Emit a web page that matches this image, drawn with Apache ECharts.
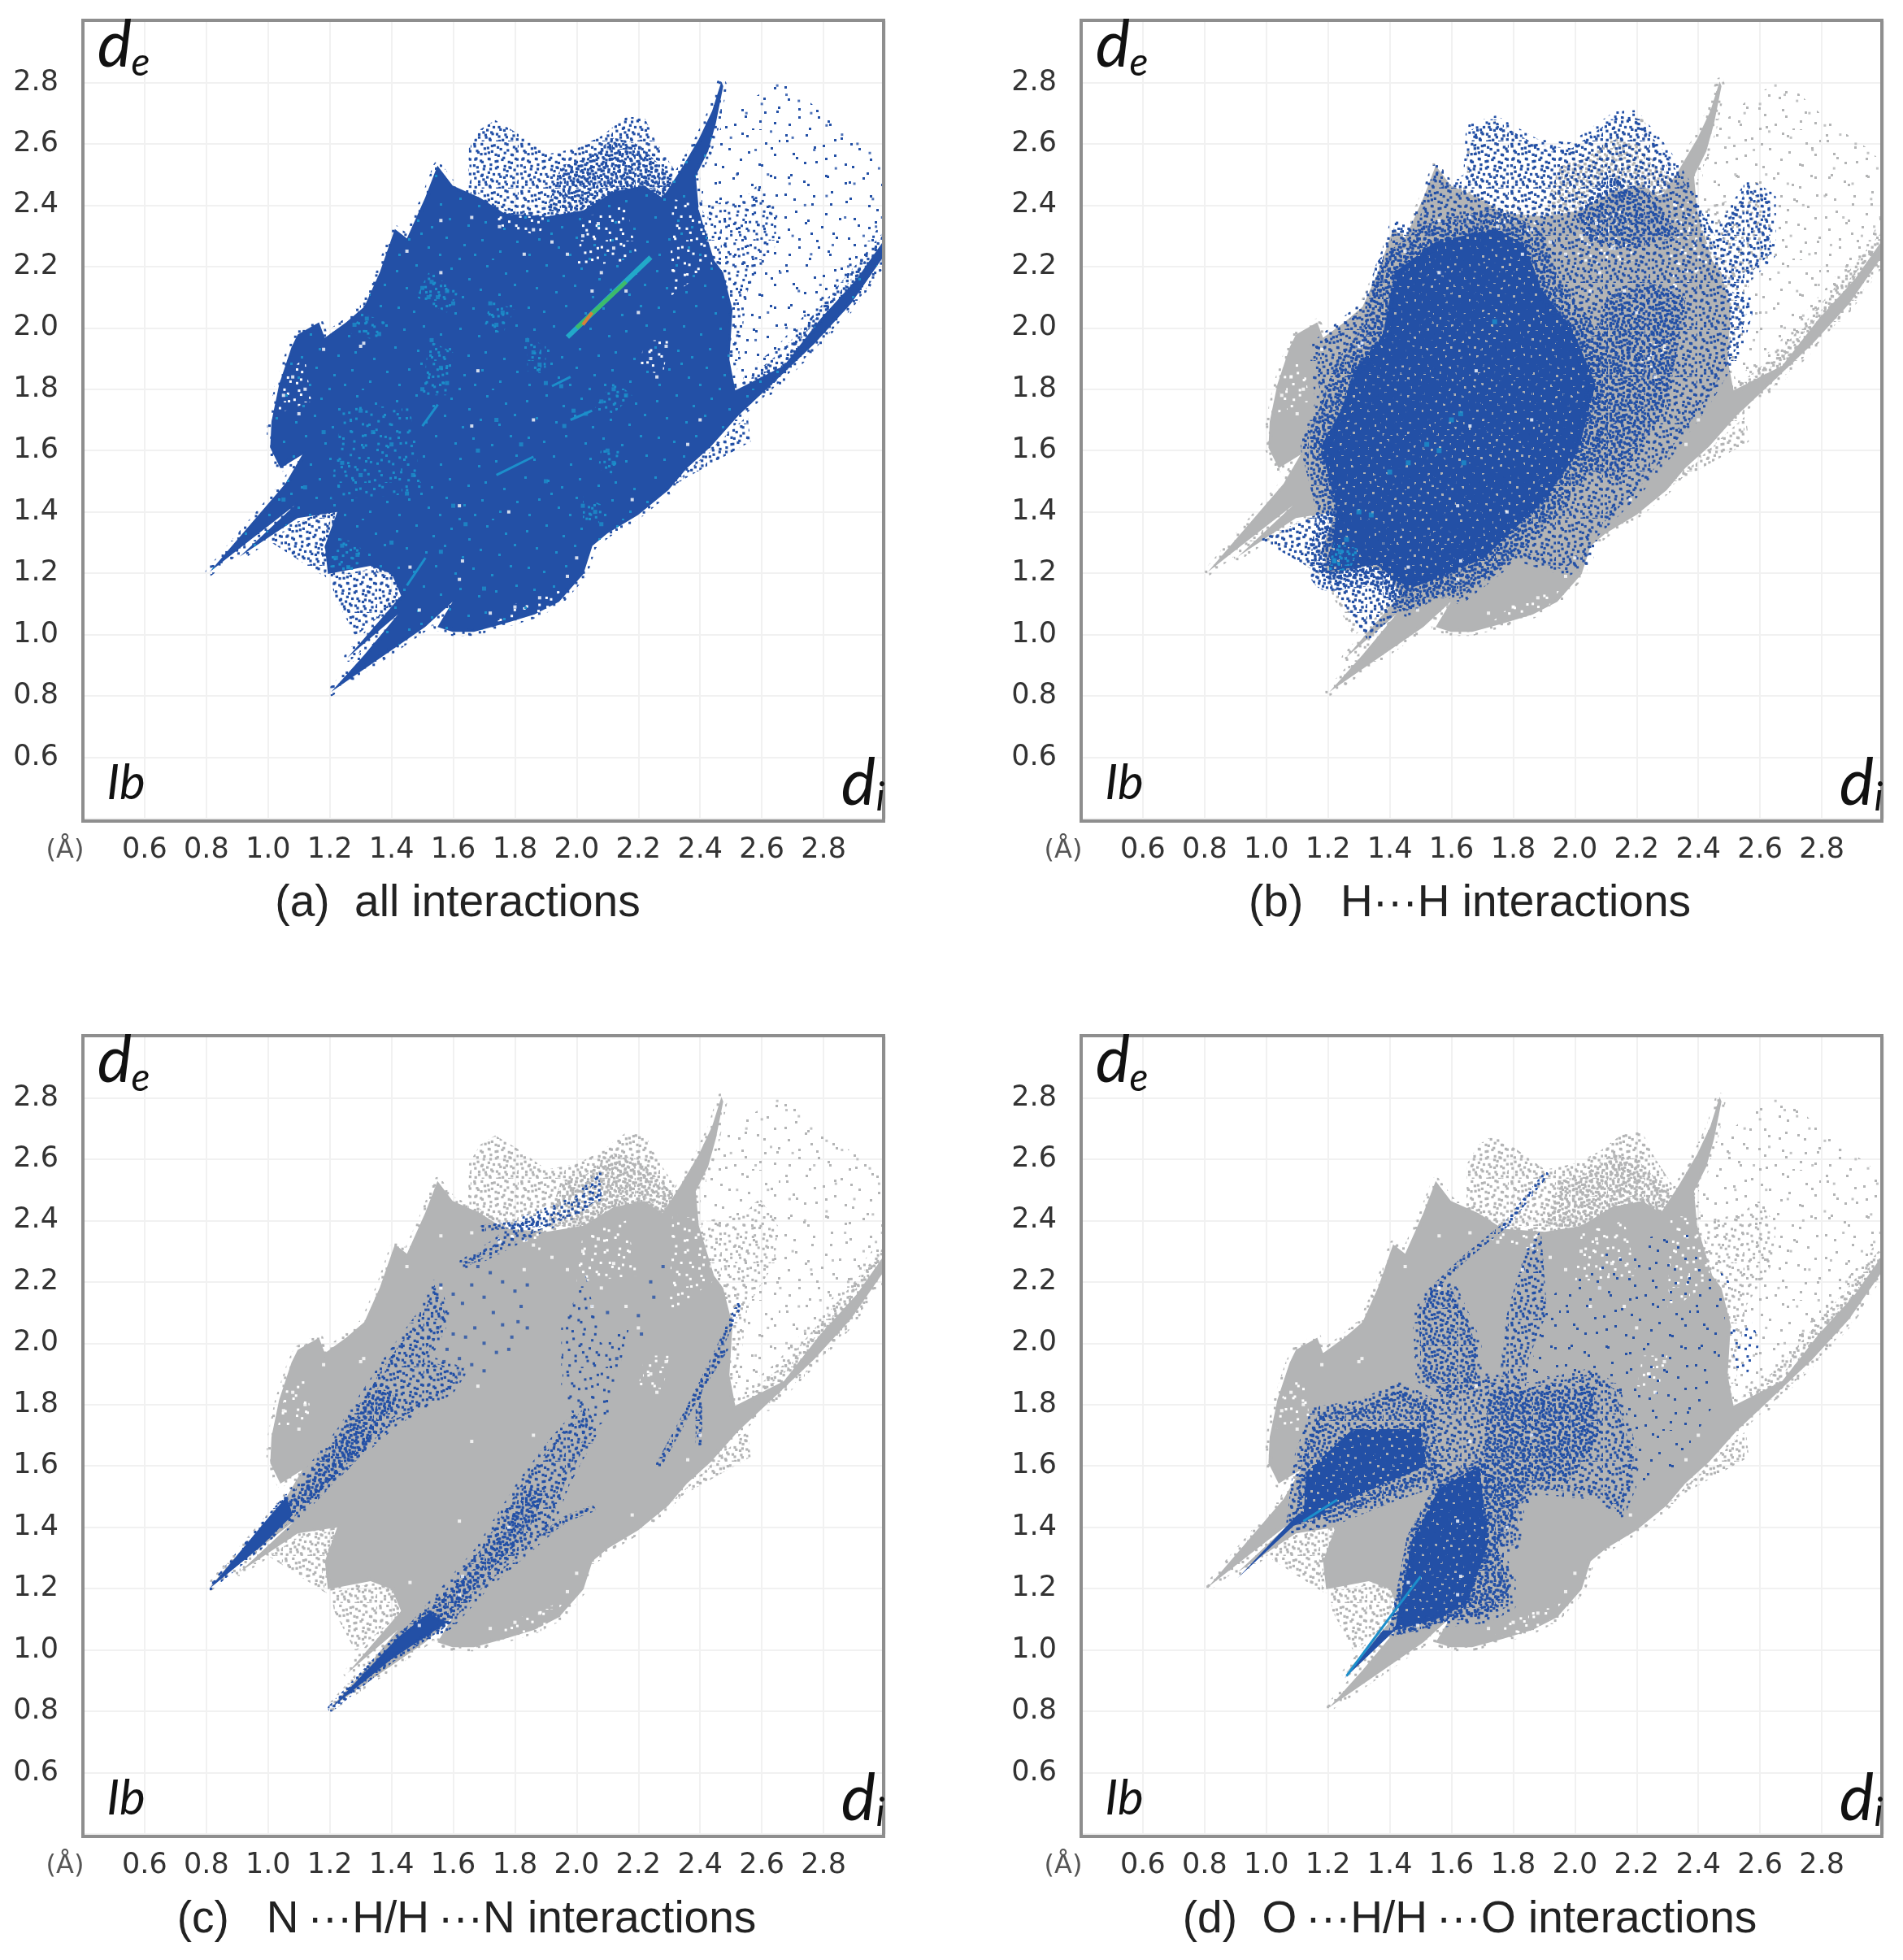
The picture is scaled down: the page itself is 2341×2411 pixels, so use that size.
<!DOCTYPE html>
<html><head><meta charset="utf-8">
<style>html,body{margin:0;background:#fff}#c{width:2341px;height:2411px;filter:blur(0.7px)}</style>
<script src="https://cdn.jsdelivr.net/npm/echarts@6/dist/echarts.min.js"></script>
</head><body><div id="c"></div>
<script>
// tick labels / captions
const captions=['(a)  all interactions','(b)   H···H interactions','(c)   N\u2009···H/H\u2009···N interactions','(d)  O\u2009···H/H\u2009···O interactions'];
const captionX=[563,1808,574,1808], captionY=[1112,1112,2362,2362];

// Fingerprint outline shared by all panels [di,de]
const mainOutline=[[.81,1.204],[1.056,1.492],[1.111,1.587],[1.04,1.542],[1.007,1.609],[1.011,1.694],[1.036,1.816],[1.076,1.937],[1.096,1.978],[1.165,2.018],[1.184,1.968],[1.253,2.018],[1.312,2.069],[1.362,2.181],[1.411,2.322],[1.45,2.292],[1.509,2.424],[1.549,2.529],[1.598,2.464],[1.687,2.424],[1.766,2.373],[1.903,2.363],[2.022,2.383],[2.12,2.444],[2.219,2.464],[2.278,2.424],[2.337,2.515],[2.396,2.616],[2.439,2.707],[2.469,2.803],[2.475,2.788],[2.451,2.667],[2.426,2.576],[2.386,2.495],[2.396,2.383],[2.445,2.221],[2.475,2.18],[2.505,2.059],[2.495,1.897],[2.514,1.796],[2.672,1.877],[2.79,2.029],[2.908,2.16],[3,2.292],[3,2.241],[2.889,2.079],[2.77,1.948],[2.632,1.816],[2.524,1.714],[2.435,1.613],[2.357,1.542],[2.297,1.471],[2.199,1.39],[2.1,1.33],[2.051,1.289],[2.022,1.198],[1.943,1.107],[1.864,1.066],[1.766,1.036],[1.667,1.009],[1.598,1.009],[1.549,1.025],[1.598,1.107],[1.509,1.025],[1.204,.813],[1.312,.934],[1.421,1.066],[1.257,.924],[1.431,1.127],[1.401,1.198],[1.332,1.224],[1.194,1.198],[1.184,1.289],[1.224,1.4],[1.096,1.38],[.908,1.254],[1.086,1.421],[.918,1.289]];
const topLobes=[[1.647,2.403],[1.651,2.586],[1.687,2.647],[1.736,2.677],[1.805,2.636],[1.903,2.566],[2.002,2.586],[2.081,2.626],[2.16,2.687],[2.219,2.687],[2.258,2.606],[2.317,2.515],[2.278,2.383],[2.022,2.322],[1.706,2.373]];
const topDense=[[1.9,2.38],[1.95,2.53],[2.03,2.55],[2.12,2.62],[2.2,2.6],[2.32,2.48],[2.25,2.38]];
const fanRegion=[[2.426,2.576],[2.475,2.667],[2.554,2.738],[2.652,2.799],[2.711,2.778],[2.83,2.667],[2.948,2.586],[3,2.535],[3,2.282],[2.889,2.14],[2.77,1.998],[2.652,1.877],[2.514,1.796],[2.475,2.059],[2.435,2.221],[2.396,2.383]];
const midZone=[[2.42,2.4],[2.544,2.423],[2.593,2.474],[2.652,2.383],[2.642,2.262],[2.554,2.12],[2.52,1.86],[2.475,1.95],[2.44,2.22]];
const lowerBand=[[2.56,1.84],[2.66,1.92],[2.79,2.07],[2.9,2.2],[3,2.32],[3,2.24],[2.88,2.07],[2.76,1.94],[2.62,1.8]];
const lowerRightLobe=[[2.455,1.623],[2.554,1.714],[2.564,1.629],[2.357,1.512],[2.307,1.482]];
const lowerLeftA=[[.997,1.309],[1.224,1.431],[1.184,1.188]];
const lowerLeftB=[[1.204,1.188],[1.391,1.228],[1.431,1.117],[1.283,.995],[1.214,1.127]];
const holeZones=[[[1.03,1.72],[1.06,1.86],[1.12,1.9],[1.14,1.76]],[[1.73,1.04],[1.8,1.1],[1.96,1.16],[1.9,1.07]],[[2.3,2.1],[2.31,2.42],[2.42,2.4],[2.44,2.2]],[[2.0,2.2],[2.02,2.36],[2.16,2.4],[2.2,2.22]],[[2.2,1.86],[2.22,1.96],[2.3,1.96],[2.28,1.85]],[[1.72,2.34],[1.76,2.37],[1.9,2.36],[1.88,2.3]]];
const fanDots=[2.5,2.62,2.55,2.7,2.6,2.73,2.65,2.79,2.68,2.76,2.72,2.74,2.76,2.7,2.81,2.66,2.86,2.63,2.91,2.6,2.95,2.57,2.98,2.52,2.52,2.5,2.58,2.58,2.63,2.64,2.7,2.62,2.77,2.58,2.84,2.52,2.9,2.47,2.96,2.42,2.99,2.36,2.62,2.5,2.69,2.47,2.74,2.4,2.81,2.43,2.87,2.36,2.93,2.3,2.97,2.33,2.7,2.3,2.76,2.24,2.83,2.27,2.88,2.2,2.66,2.18,2.72,2.12,2.79,2.14,2.62,2.05,2.68,2,2.74,2.04,2.58,1.96];
const whiteSpecks=[1.05,1.78,1.08,1.84,1.12,1.8,1.1,1.72,1.18,1.93,1.31,1.95,1.45,2.25,1.56,2.35,1.66,2.36,1.75,2.33,1.83,2.24,1.86,2.32,1.92,2.28,1.97,2.24,2.02,2.3,2.08,2.18,2.12,2.26,2.16,2.12,2.2,2.05,2.24,1.9,2.26,1.84,2.29,1.94,2.07,2.34,1.86,1.7,1.66,1.68,1.62,1.42,1.78,1.4,1.63,1.24,1.46,1.22,1.49,1.08,1.62,1.18,1.3,1.94,2.36,1.62,2.4,1.7,2.18,1.44,2.0,1.25,1.97,1.19,1.88,1.12,1.8,1.09,1.72,1.07,1.68,1.86,1.56,2.18,2.05,2.12];

// Panel (a) cyan speckle clusters and streaks
const cyanSpecks=[1.5,2.13,1.53,2.15,1.55,2.1,1.58,2.12,1.6,2.08,1.52,2.1,1.72,2.08,1.76,2.05,1.74,2.01,1.28,2.01,1.32,2.03,1.36,1.98,1.53,1.96,1.56,1.87,1.58,1.82,1.5,1.8,1.86,1.92,1.84,1.96,1.88,1.88,2.12,1.8,2.16,1.78,2.08,1.76,2.03,1.72,2.1,1.6,2.12,1.56,1.99,1.73,1.96,1.68,2.02,1.42,2.06,1.4,2.08,1.36,1.9,1.82,1.95,1.81,1.3,1.73,1.34,1.66,1.4,1.62,1.24,1.56,1.3,1.52,1.22,1.25,1.26,1.22,1.24,1.29,1.29,1.26,1.6,1.42,1.64,1.36,1.45,1.46,1.47,1.52,1.68,1.6,1.74,1.7,1.82,1.62,1.9,1.5,1.4,1.3,1.56,1.27,1.7,1.15,1.18,1.66,1.12,1.48,1.05,1.44];
const cyanPatches=[[[1.48,2.1],[1.52,2.18],[1.62,2.12],[1.58,2.05]],[[1.27,1.98],[1.3,2.05],[1.38,2.02],[1.35,1.96]],[[1.7,2.0],[1.72,2.09],[1.8,2.06],[1.76,1.98]],[[2.06,1.74],[2.12,1.83],[2.18,1.78],[2.12,1.72]],[[1.84,1.86],[1.84,1.97],[1.9,1.94],[1.9,1.85]],[[2.07,1.54],[2.08,1.62],[2.14,1.6],[2.12,1.52]],[[2.02,1.37],[2.02,1.45],[2.09,1.42],[2.07,1.36]],[[1.2,1.22],[1.24,1.32],[1.32,1.27],[1.27,1.2]],[[1.5,1.78],[1.52,1.96],[1.6,1.92],[1.58,1.78]]];
const cyanWide=[[[1.2,1.44],[1.24,1.75],[1.46,1.74],[1.5,1.46]]];
const streakCyan=[[1.97,1.97],[2.24,2.23]], streakGreen=[[2.0,2.0],[2.16,2.15]], streakOrange=[[2.02,2.01],[2.05,2.05]];
const thinStreaks=[[[1.74,1.52],[1.86,1.58]],[[1.45,1.16],[1.51,1.25]],[[1.5,1.68],[1.55,1.75]],[[1.92,1.81],[1.98,1.84]],[[1.98,1.7],[2.05,1.73]]];

// Panel (b) overlay
const bOuter=[[1.138,1.644],[1.177,1.755],[1.157,1.937],[1.282,2.039],[1.33,2.079],[1.397,2.262],[1.416,2.333],[1.483,2.322],[1.55,2.515],[1.588,2.464],[1.656,2.484],[1.665,2.647],[1.742,2.673],[1.876,2.596],[1.991,2.586],[2.134,2.687],[2.192,2.691],[2.288,2.576],[2.374,2.444],[2.46,2.292],[2.566,2.464],[2.633,2.424],[2.633,2.241],[2.508,2.12],[2.565,2.079],[2.527,1.937],[2.431,1.775],[2.316,1.613],[2.201,1.471],[2.058,1.33],[2.039,1.238],[1.972,1.208],[1.809,1.259],[1.627,1.117],[1.569,1.157],[1.454,1.076],[1.359,1.2],[1.186,1.198],[1.224,1.39],[1.19,1.55]];
const bCore=[[1.205,1.208],[1.228,1.41],[1.177,1.613],[1.244,1.735],[1.282,1.856],[1.378,1.978],[1.416,2.181],[1.55,2.282],[1.742,2.322],[1.838,2.272],[1.895,2.12],[1.991,1.998],[2.067,1.816],[2.01,1.593],[1.895,1.431],[1.703,1.248],[1.569,1.188],[1.454,1.147],[1.359,1.228]];
const bPatch=[[2.0,2.36],[2.1,2.5],[2.24,2.44],[2.34,2.3],[2.2,2.26],[2.05,2.28]];
const bPatch2=[[2.02,1.75],[2.1,2.1],[2.24,2.15],[2.36,2.1],[2.3,1.75],[2.14,1.5],[2.02,1.55]];
const bLeftA=[[.98,1.31],[1.228,1.42],[1.19,1.19]], bLeftB=[[1.19,1.19],[1.36,1.23],[1.44,1.09],[1.33,.98],[1.23,1.13]];
const bCyan=[1.24,1.27,1.22,1.24,1.26,1.31,1.3,1.4,1.34,1.39,1.4,1.53,1.46,1.56,1.52,1.62,1.56,1.6,1.6,1.7,1.64,1.56,1.74,2.02,1.63,1.72];
const bCyanPatch=[[1.2,1.21],[1.22,1.3],[1.3,1.28],[1.27,1.21]];

// Panel (c) overlay
const cTip=[[.81,1.2],[1.0,1.43],[1.06,1.5],[1.08,1.44],[.98,1.34]];
const cBandA=[[1.04,1.46],[1.233,1.706],[1.391,1.947],[1.509,2.107],[1.539,2.19],[1.578,2.087],[1.509,1.947],[1.628,1.907],[1.588,1.847],[1.411,1.746],[1.233,1.585],[1.056,1.404]];
const cBandACore=[[1.05,1.44],[1.2,1.64],[1.36,1.86],[1.42,1.82],[1.3,1.65],[1.15,1.5]];
const cTip2=[[1.204,.81],[1.42,1.04],[1.52,1.12],[1.58,1.09],[1.4,.97]];
const cBandB=[[1.391,.983],[1.687,1.325],[1.825,1.546],[1.933,1.687],[2.022,1.788],[2.051,1.708],[1.963,1.546],[1.903,1.385],[1.706,1.214],[1.588,1.084]];
const cBandBCore=[[1.48,1.08],[1.7,1.3],[1.84,1.52],[1.9,1.52],[1.84,1.38],[1.66,1.2],[1.56,1.08]];
const cSparseB=[[1.95,1.85],[1.95,2.05],[2.03,2.22],[2.08,2.0],[2.17,2.05],[2.1,1.75],[2.02,1.7]];
const cTop=[[1.628,2.262],[1.726,2.323],[1.825,2.402],[2.002,2.472],[2.071,2.553],[2.081,2.482],[2.022,2.432],[1.864,2.361],[1.726,2.291],[1.647,2.251]];
const cLines=[[[1.697,2.375],[1.78,2.385],[1.88,2.39]],[[1.9,1.38],[1.97,1.43],[2.05,1.46]],[[2.268,1.607],[2.33,1.72],[2.396,1.848],[2.46,1.98],[2.524,2.12]],[[2.396,1.677],[2.396,1.848],[2.48,1.98]]];
const cDots=[1.56,2.19,1.6,2.16,1.63,2.13,1.66,2.19,1.7,2.15,1.73,2.1,1.76,2.06,1.79,2.02,1.78,1.98,1.74,1.97,1.7,2,1.67,2.05,1.64,2.02,1.6,2.03,1.58,1.98,1.62,1.95,1.66,1.93,1.7,1.91,1.82,2.12,1.84,2.19,1.8,2.17,1.76,2.2,1.72,2.23,1.68,2.25,1.84,2.05,1.81,2.07,1.55,2.05,1.52,2.02,1.57,1.94,1.62,1.9,2.2,2.09,2.24,2.2,2.28,2.25,2.25,2.15,2.21,2.03,2.1,2.1,2.13,1.95];

// Panel (d) overlay
const dTip=[[.908,1.235],[1.09,1.406],[1.225,1.46],[1.1,1.44]];
const dWing=[[1.09,1.406],[1.119,1.637],[1.167,1.768],[1.301,1.788],[1.435,1.848],[1.52,1.8],[1.52,1.66],[1.569,1.566],[1.397,1.506],[1.225,1.436]];
const dWingCore=[[1.12,1.43],[1.13,1.58],[1.28,1.72],[1.5,1.72],[1.52,1.6],[1.38,1.54],[1.22,1.47]];
const dCentre=[[1.52,1.8],[1.6,1.85],[1.72,1.89],[1.83,1.85],[2.05,1.9],[2.13,1.85],[2.19,1.62],[2.18,1.53],[2.144,1.446],[2.087,1.506],[1.876,1.526],[1.818,1.466],[1.809,1.345],[1.751,1.325],[1.79,1.225],[1.79,1.144],[1.703,1.104],[1.589,1.094],[1.416,1.064],[1.474,1.365],[1.56,1.526]];
const dCentreCore=[[1.7,1.55],[1.72,1.85],[1.85,1.84],[2.06,1.86],[2.08,1.7],[1.98,1.55],[1.85,1.55],[1.8,1.45]];
const dLower=[[1.416,1.064],[1.474,1.365],[1.56,1.526],[1.69,1.6],[1.72,1.35],[1.65,1.15],[1.55,1.1]];
const dLowerWide=[[1.42,1.07],[1.59,1.1],[1.72,1.12],[1.79,1.2],[1.75,1.33],[1.81,1.45],[1.7,1.6],[1.58,1.54],[1.47,1.36]];
const dLowerTip=[[1.253,.907],[1.378,1.064],[1.416,1.064]];
const dUpper=[[1.502,1.888],[1.493,2.09],[1.531,2.17],[1.6,2.18],[1.68,2.0],[1.68,1.86],[1.58,1.84]];
const dStrand=[[1.75,1.85],[1.78,2.1],[1.84,2.3],[1.89,2.37],[1.91,2.1],[1.85,1.95],[1.84,1.85]];
const dSparse=[[1.85,1.9],[1.92,2.15],[2.1,2.3],[2.35,2.38],[2.5,2.2],[2.45,1.8],[2.3,1.55],[2.18,1.55],[2.13,1.85]];
const dBlob=[[2.52,1.92],[2.5,2.05],[2.57,2.08],[2.6,2.0],[2.56,1.9]];
const dThin=[[[1.531,2.17],[1.646,2.28],[1.78,2.39],[1.905,2.55]]];
const dCyan=[[[1.26,.915],[1.41,1.12],[1.5,1.24]],[[1.12,1.42],[1.23,1.49]]];

// hand-placed speckle texture positions (x,y in a 160px tile)
const speckle=[7,12,31,5,52,18,74,9,96,22,118,6,141,15,19,33,43,38,66,30,88,44,110,35,133,41,152,29,9,57,28,62,55,55,79,64,101,58,124,66,147,55,16,84,40,80,61,90,85,83,108,92,129,86,154,79,5,106,33,110,50,118,72,108,95,116,116,112,139,120,22,133,46,143,68,131,90,140,112,134,134,148,155,136,10,152,37,126,60,152,84,157,103,152,125,158];

const BLUE='#2350a6',GREY='#b3b4b5',CYAN='#1c8fcb',WHITE='#ffffff';
const pairs=a=>{const o=[];for(let i=0;i<a.length;i+=2)o.push([a[i],a[i+1]]);return o};
function tile(color,scale,dot,solid,second){
  const s=Math.round(160*scale),cv=document.createElement('canvas');cv.width=cv.height=s;
  const g=cv.getContext('2d');
  g.fillStyle=color;
  if(solid)g.fillRect(0,0,s,s);
  for(let i=0;i<speckle.length;i+=2){
    const x=speckle[i]*scale,y=speckle[i+1]*scale;
    if(solid)g.clearRect(x,y,dot,dot);else g.fillRect(x,y,dot,dot);
    if(second){const x2=y,y2=((speckle[i]+47)%160)*scale;g.fillRect(x2,y2,dot,dot);}
  }
  return {image:cv,repeat:'repeat'};
}
const T={};
function tex(color,kind){
  const k=color+kind; if(T[k])return T[k];
  const p={fan:[1,3,0,1],sparse:[.62,3,0,1],mid:[.46,3,0,1],thick:[.36,3.2,0,1],fine:[.29,3.2,0,1],dense:[.62,2.8,1,0],porous:[.42,2.8,1,0],cy:[1,3,0,0]}[kind];
  return T[k]=tile(color,p[0],p[1],!!p[2],!!p[3]);
}
const series=[];
const poly=(p,pts,fill,edge,w)=>series.push({type:'custom',xAxisIndex:p,yAxisIndex:p,clip:true,silent:true,animation:false,encode:{x:0,y:1},data:pts,
  renderItem:(params,api)=>params.dataIndex===0?{type:'polygon',shape:{points:pts.map(v=>api.coord(v))},style:{fill,stroke:edge||null,lineWidth:w||0,lineJoin:'round'}}:null});
const strand=(p,pts,stroke,w)=>series.push({type:'custom',xAxisIndex:p,yAxisIndex:p,clip:true,silent:true,animation:false,encode:{x:0,y:1},data:pts,
  renderItem:(params,api)=>params.dataIndex===0?{type:'polyline',shape:{points:pts.map(v=>api.coord(v))},style:{fill:null,stroke,lineWidth:w,lineCap:'round'}}:null});
const dots=(p,flat,color,size)=>series.push({type:'scatter',xAxisIndex:p,yAxisIndex:p,silent:true,animation:false,data:pairs(flat),symbol:'rect',symbolSize:size,itemStyle:{color}});
const line=(p,pts,color,w)=>series.push({type:'line',xAxisIndex:p,yAxisIndex:p,silent:true,animation:false,showSymbol:false,data:pts,lineStyle:{color,width:w},itemStyle:{color}});

function base(p,c){
  poly(p,fanRegion,tex(c,'fan'));
  dots(p,fanDots,c,3);
  poly(p,midZone,tex(c,'mid'));
  poly(p,lowerBand,tex(c,'thick'),tex(c,'sparse'),16);
  poly(p,lowerRightLobe,tex(c,'thick'));
  poly(p,lowerLeftA,tex(c,'thick'));
  poly(p,lowerLeftB,tex(c,'thick'));
  poly(p,topLobes,tex(c,'thick'));
  poly(p,topDense,tex(c,'fine'));
  poly(p,mainOutline,c,tex(c,'mid'),10);
  holeZones.forEach(z=>poly(p,z,tex(WHITE,'sparse')));
  dots(p,whiteSpecks,WHITE,4);
}
// (a)
base(0,BLUE);
poly(0,mainOutline.slice(0),tex(CYAN,'cy'));
cyanWide.forEach(z=>poly(0,z,tex(CYAN,'sparse')));
cyanPatches.forEach(z=>poly(0,z,tex(CYAN,'mid')));
dots(0,cyanSpecks,CYAN,5);
thinStreaks.forEach(s=>line(0,s,CYAN,3));
line(0,streakCyan,'#22a9c9',6);line(0,streakGreen,'#3dbb6a',5);line(0,streakOrange,'#d9803a',4);
// (b)
base(1,GREY);
poly(1,bLeftA,tex(BLUE,'thick'));poly(1,bLeftB,tex(BLUE,'thick'));
poly(1,bOuter,tex(BLUE,'thick'),tex(BLUE,'mid'),14);
poly(1,bPatch,tex(BLUE,'fine'));
poly(1,bPatch2,tex(BLUE,'fine'));
poly(1,bCore,tex(BLUE,'fine'),tex(BLUE,'fine'),50);
poly(1,bCore,tex(BLUE,'porous'),tex(BLUE,'fine'),20);
poly(1,bCyanPatch,tex(CYAN,'thick'));
dots(1,bCyan,CYAN,6);
// (c)
base(2,GREY);
poly(2,cBandA,tex(BLUE,'thick'),tex(BLUE,'mid'),12);poly(2,cBandACore,tex(BLUE,'fine'),tex(BLUE,'thick'),10);poly(2,cTip,BLUE,tex(BLUE,'thick'),6);
poly(2,cBandB,tex(BLUE,'thick'),tex(BLUE,'mid'),12);poly(2,cBandBCore,tex(BLUE,'fine'),tex(BLUE,'thick'),10);poly(2,cTip2,BLUE,tex(BLUE,'fine'),8);
poly(2,cSparseB,tex(BLUE,'sparse'));poly(2,cTop,tex(BLUE,'thick'),tex(BLUE,'mid'),8);
cLines.forEach(l=>strand(2,l,tex(BLUE,'fine'),8));
dots(2,cDots,BLUE,4);
// (d)
base(3,GREY);
poly(3,dSparse,tex(BLUE,'fan'));
poly(3,dCentre,tex(BLUE,'thick'),tex(BLUE,'mid'),14);
poly(3,dCentreCore,tex(BLUE,'fine'));
poly(3,dUpper,tex(BLUE,'fine'),tex(BLUE,'mid'),14);
poly(3,dStrand,tex(BLUE,'thick'));
poly(3,dBlob,tex(BLUE,'sparse'));
poly(3,dLowerWide,tex(BLUE,'fine'),tex(BLUE,'mid'),12);
poly(3,dWing,tex(BLUE,'fine'),tex(BLUE,'thick'),20);
poly(3,dWingCore,tex(BLUE,'porous'));
poly(3,dLower,tex(BLUE,'porous'),tex(BLUE,'fine'),14);
poly(3,dTip,BLUE);poly(3,dLowerTip,BLUE);
dThin.forEach(l=>strand(3,l,tex(BLUE,'fine'),7));
dCyan.forEach(l=>line(3,l,CYAN,3));

const DX=[0,1228,0,1228],DY=[0,0,1249,1249];
const font='"DejaVu Sans",sans-serif', ital='Lato,"Open Sans",sans-serif';
const grid=[],xAxis=[],yAxis=[],graphic=[];
const txt=(x,y,text,size,extra)=>graphic.push({type:'text',x,y,silent:true,z:50,style:Object.assign({text,fontSize:size,fontFamily:ital,fontStyle:'italic',fill:'#111',align:'center',verticalAlign:'middle'},extra||{})});
for(let p=0;p<4;p++){
  const dx=DX[p],dy=DY[p];
  grid.push({left:102+dx,top:26+dy,width:987,height:981,show:false});
  const ax=(pos)=>({type:'value',gridIndex:p,min:.4,max:3,interval:.2,position:pos,
    axisLine:{show:false},axisTick:{show:false},
    splitLine:{show:true,lineStyle:{color:'#f1f1f1',width:2}},
    axisLabel:{show:true,fontFamily:font,fontSize:35,color:'#333',showMinLabel:false,showMaxLabel:false,margin:pos==='bottom'?21:30,formatter:v=>v.toFixed(1)}});
  xAxis.push(ax('bottom'));yAxis.push(ax('left'));
  graphic.push({type:'rect',silent:true,z:40,shape:{x:102+dx,y:25+dy,width:985,height:985},style:{fill:'none',stroke:'#8e8e8e',lineWidth:4}});
  txt(141+dx,56+dy,'d',80);txt(173+dx,78+dy,'e',48);
  txt(155+dx,964+dy,'Ib',60);
  txt(1056+dx,964+dy,'d',80);txt(1083+dx,982+dy,'i',48);
  txt(80+dx,1047+dy,'(Å)',32,{fontFamily:font,fontStyle:'normal',fill:'#555'});
  txt(captionX[p],captionY[p],captions[p],55,{fontFamily:'"Liberation Sans",Arial,sans-serif',fontStyle:'normal',fill:'#222'});
}
const chart=echarts.init(document.getElementById('c'),null,{renderer:'canvas'});
chart.setOption({backgroundColor:'#fff',animation:false,grid,xAxis,yAxis,series,graphic});
</script></body></html>
